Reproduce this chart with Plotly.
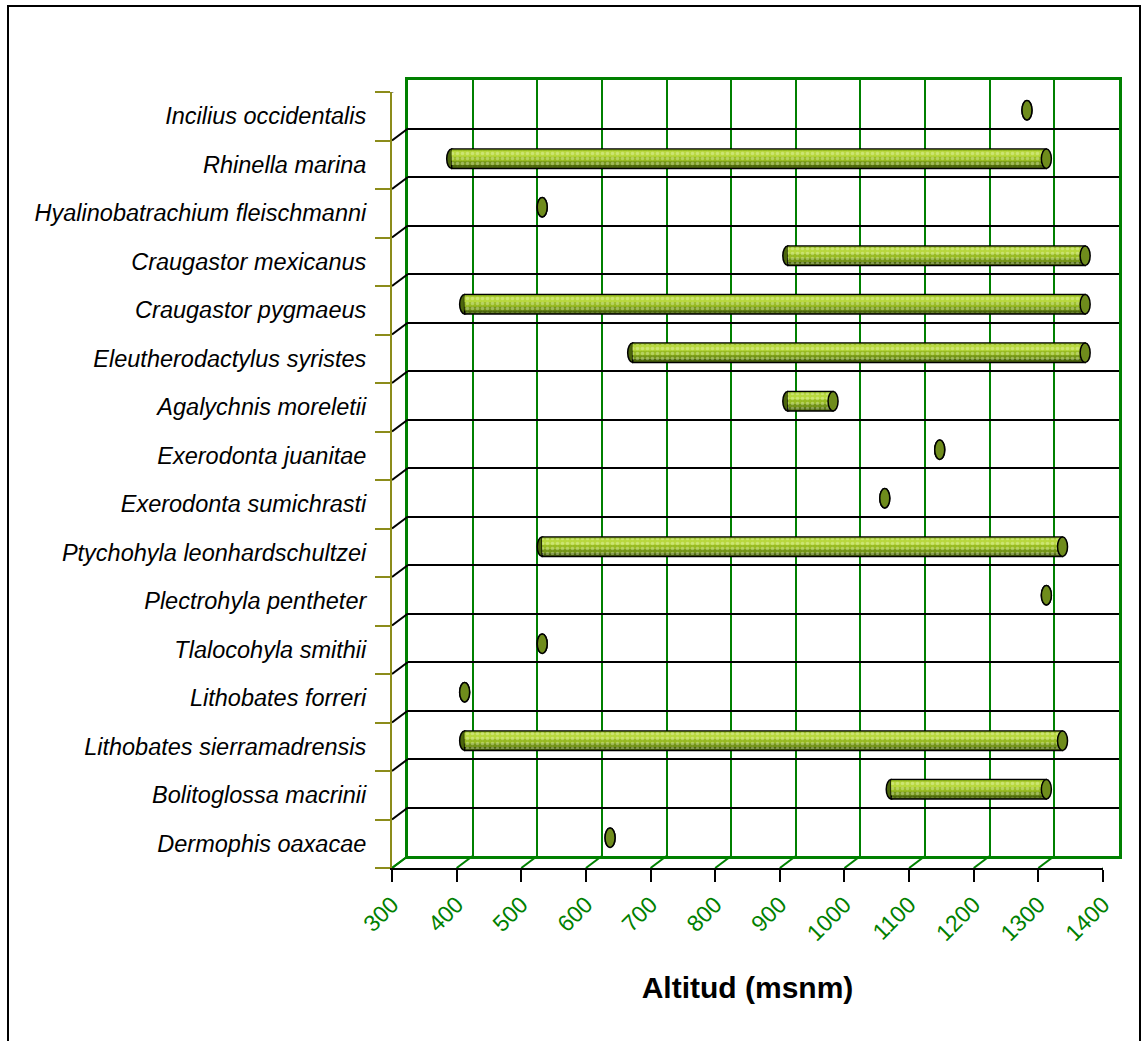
import plotly.graph_objects as go

# Altitudinal range (m a.s.l.) per species, listed from bottom row to top row
species = [
    "Dermophis oaxacae",
    "Bolitoglossa macrinii",
    "Lithobates sierramadrensis",
    "Lithobates forreri",
    "Tlalocohyla smithii",
    "Plectrohyla pentheter",
    "Ptychohyla leonhardschultzei",
    "Exerodonta sumichrasti",
    "Exerodonta juanitae",
    "Agalychnis moreletii",
    "Eleutherodactylus syristes",
    "Craugastor pygmaeus",
    "Craugastor mexicanus",
    "Hyalinobatrachium fleischmanni",
    "Rhinella marina",
    "Incilius occidentalis",
]
alt_min = [625, 1060, 400, 400, 520, 1300, 520, 1050, 1135, 900, 660, 400, 900, 520, 380, 1270]
alt_max = [625, 1300, 1325, 400, 520, 1300, 1325, 1050, 1135, 970, 1360, 1360, 1360, 520, 1300, 1270]
x_ticks = list(range(300, 1401, 100))
x_title = "Altitud (msnm)"

# ---- page geometry (pixels) ----
W, H = 1144, 1041
FX0, FX1 = 392, 1103      # front plane, left / right
FY0, FY1 = 92, 868        # front plane, top / bottom
DX, DY = 16, 12           # depth offset of the back wall
X_RANGE = [300, 1400]
Y_RANGE = [-0.5, len(species) - 0.5]

FONT = "Arial, Liberation Sans, sans-serif"
GREEN = "#008000"
OLIVE = "#8c8c1a"


def dom_x(dx):
    return [(FX0 + dx) / W, (FX1 + dx) / W]


def dom_y(dy):
    return [1 - (FY1 - dy) / H, 1 - (FY0 - dy) / H]


fig = go.Figure()

# placeholders so every axis system knows the category list
for xa, ya in (("x", "y"), ("x2", "y2"), ("x3", "y3")):
    fig.add_trace(go.Scatter(
        x=alt_min, y=species, xaxis=xa, yaxis=ya, mode="markers",
        marker=dict(opacity=0), hoverinfo="skip", showlegend=False))

lengths = [hi - lo for lo, hi in zip(alt_min, alt_max)]

# cylinder bodies: dark base, then lighter bands toward the top edge
bands = [
    dict(offset=-0.20, width=0.40, color="#4c660c", line=1.5),
    dict(offset=-0.13, width=0.32, color="#739417", line=0),
    dict(offset=-0.05, width=0.23, color="#98bb22", line=0),
    dict(offset=0.04, width=0.12, color="#b8d83e", line=0),
]
for b in bands:
    fig.add_trace(go.Bar(
        orientation="h", y=species, x=lengths, base=alt_min,
        xaxis="x3", yaxis="y3", offset=b["offset"], width=b["width"],
        marker=dict(color=b["color"], line=dict(color="black", width=b["line"])),
        hoverinfo="skip", showlegend=False))

# dotted texture over the bodies
fig.add_trace(go.Bar(
    orientation="h", y=species, x=lengths, base=alt_min,
    xaxis="x3", yaxis="y3", offset=-0.17, width=0.35,
    marker=dict(color="rgba(0,0,0,0)", line=dict(width=0),
                pattern=dict(shape=".", fillmode="overlay", size=5, solidity=0.4,
                             fgcolor="rgba(240,250,210,0.7)")),
    hoverinfo="skip", showlegend=False))

shapes = []
CAP_W, CAP_H = 5, 9.7

# cylinder end caps
for i, (lo, hi) in enumerate(zip(alt_min, alt_max)):
    shapes.append(dict(
        type="circle", xref="x3", yref="y3", layer="between",
        xsizemode="pixel", ysizemode="pixel", xanchor=lo, yanchor=i,
        x0=-CAP_W, x1=CAP_W, y0=-CAP_H, y1=CAP_H,
        fillcolor="#4c660c", line=dict(color="black", width=1.5)))
    shapes.append(dict(
        type="circle", xref="x3", yref="y3", layer="above",
        xsizemode="pixel", ysizemode="pixel", xanchor=hi, yanchor=i,
        x0=-CAP_W, x1=CAP_W, y0=-CAP_H, y1=CAP_H,
        fillcolor="#6f8c1c", line=dict(color="black", width=1.5)))

# side-wall diagonals at each category boundary
for k in range(len(species) + 1):
    shapes.append(dict(
        type="line", xref="x", yref="y", layer="above",
        xsizemode="pixel", ysizemode="pixel", xanchor=X_RANGE[0], yanchor=k - 0.5,
        x0=0, x1=DX, y0=0, y1=DY,
        line=dict(color=GREEN if k == 0 else "black", width=2)))

# floor diagonals at each altitude tick
for v in x_ticks:
    shapes.append(dict(
        type="line", xref="x", yref="y", layer="above",
        xsizemode="pixel", ysizemode="pixel", xanchor=v, yanchor=Y_RANGE[0],
        x0=0, x1=DX, y0=0, y1=DY,
        line=dict(color=GREEN, width=2)))

# outer chart frame
shapes.append(dict(
    type="rect", xref="paper", yref="paper", layer="above",
    x0=8 / W, x1=1140 / W, y0=-0.02, y1=1 - 6 / H,
    line=dict(color="black", width=2), fillcolor="rgba(0,0,0,0)"))

fig.update_layout(
    template="none",
    width=W, height=H,
    margin=dict(l=0, r=0, t=0, b=0, autoexpand=False),
    paper_bgcolor="white", plot_bgcolor="rgba(0,0,0,0)",
    barmode="overlay", showlegend=False,
    font=dict(family=FONT, color="black"),
    shapes=shapes,
    # front plane: visible axes and labels
    xaxis=dict(
        domain=dom_x(0), anchor="y", range=X_RANGE, automargin=False,
        tickmode="array", tickvals=x_ticks, tickangle=-45,
        tickfont=dict(family=FONT, size=23, color=GREEN),
        ticks="outside", ticklen=12, tickwidth=2, tickcolor="black",
        showline=True, linecolor="black", linewidth=2,
        showgrid=False, zeroline=False,
        title=dict(text=x_title, font=dict(family=FONT, size=30, color="black",
                                             weight="bold"), standoff=32),
    ),
    yaxis=dict(
        domain=dom_y(0), anchor="x", type="category", automargin=False,
        categoryorder="array", categoryarray=species, range=Y_RANGE,
        tickson="boundaries", ticks="outside", ticklen=15, tickwidth=2,
        tickcolor=OLIVE, showline=True, linecolor=OLIVE, linewidth=2,
        tickfont=dict(family=FONT, size=23.5, color="black", style="italic"),
        ticklabelstandoff=19, showgrid=False, zeroline=False,
    ),
    # back wall: gridlines and frame
    xaxis2=dict(
        domain=dom_x(DX), anchor="y2", range=X_RANGE, automargin=False,
        tickmode="array", tickvals=x_ticks, showticklabels=False, ticks="",
        showgrid=True, gridcolor=GREEN, gridwidth=2,
        showline=True, linecolor=GREEN, linewidth=3, mirror=True, zeroline=False,
    ),
    yaxis2=dict(
        domain=dom_y(DY), anchor="x2", type="category", automargin=False,
        categoryorder="array", categoryarray=species, range=Y_RANGE,
        tickson="boundaries", showticklabels=False, ticks="",
        showgrid=True, gridcolor="black", gridwidth=2,
        showline=True, linecolor=GREEN, linewidth=3, mirror=True, zeroline=False,
    ),
    # mid depth: where the cylinders sit
    xaxis3=dict(domain=dom_x(DX / 2), anchor="y3", range=X_RANGE, visible=False,
                automargin=False),
    yaxis3=dict(domain=dom_y(DY / 2), anchor="x3", type="category",
                categoryorder="array", categoryarray=species, range=Y_RANGE,
                visible=False, automargin=False),
)

fig.write_html("out.html")
